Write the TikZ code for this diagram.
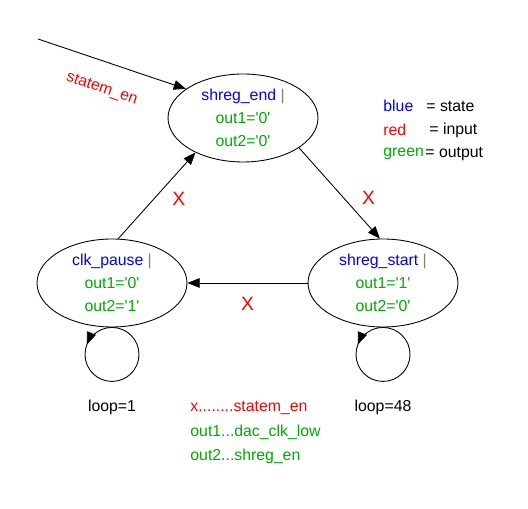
\documentclass[tikz,border=0pt]{standalone}
\usepackage{fontspec}
\setmainfont{Liberation Sans}
\usepackage{xcolor}
\usepackage{tikz}
\usetikzlibrary{arrows.meta,positioning,shapes.geometric,decorations.markings}
\definecolor{outgreen}{RGB}{0,170,0}
\newcommand\sq{\textquotesingle}
\newcommand\stname[1]{{\color{blue}#1} {\color{gray}|}}
\newcommand\outs[2]{\textcolor{outgreen}{out1=\sq#1\sq}\\ \textcolor{outgreen}{out2=\sq#2\sq}}

\begin{document}
\begin{tikzpicture}[x=0.02cm, y=0.02cm, line width=0.5pt,
  font=\fontsize{9}{13}\selectfont,
  state/.style={ellipse, draw, minimum width=3cm, minimum height=1.76cm, inner sep=0pt, align=center},
  tip/.style={-{Triangle[length=7pt,width=5.5pt]}},
  selfloop/.style={postaction={decorate}, decoration={markings,
      mark=at position 0.19 with {\arrow{Triangle[length=7pt,width=5.5pt]}}}},
  cond/.style={red, font=\fontsize{11}{11}\selectfont},
  legend/.style={anchor=west, inner sep=0pt}]
  \useasboundingbox (0,0) rectangle (528,-509);
  % die drei Zustaende
  \node[state] (end) at (243,-118) {\stname{shreg\_end}\\ \outs{0}{0}};
  \node[state] (pause) at (112,-283) {\stname{clk\_pause}\\ \outs{0}{1}};
  \node[state] (start) at (383,-283) {\stname{shreg\_start}\\ \outs{1}{0}};
  % Einsprung
  \coordinate (init) at (38,-39);
  \draw[tip] (init) -- (end.153) node[pos=0.49, below=8pt, sloped, red] {statem\_en};
  % Uebergaenge
  \draw[tip] (pause.82) -- (end.216) node[cond, pos=0.46, right=7pt] {X};
  \draw[tip] (end.332) -- (start.94) node[cond, pos=0.55, right=7pt] {X};
  \draw[tip] (start.west) -- (pause.east) node[cond, pos=0.5, below=4.5pt] {X};
  % Schleifen
  \draw[selfloop] (pause.south) arc[start angle=90, delta angle=360, radius=27];
  \draw[selfloop] (start.south) arc[start angle=90, delta angle=360, radius=27];
  \node (pauseloop) at (112,-407) {loop=1};
  \node (startloop) at (383,-407) {loop=48};
  % Legende
  \node[legend, blue] (kstate) at (383,-106) {blue};
  \node[legend] (vstate) at (426,-106) {= state};
  \node[legend, red] (kinput) at (383,-130) {red};
  \node[legend] (vinput) at (429,-130) {= input};
  \node[legend, outgreen] (koutput) at (383,-154) {green};
  \node[legend] (voutput) at (425,-154) {= output};
  \node[legend, red] (sx) at (190,-408) {x........statem\_en};
  \node[legend, outgreen] (sout1) at (190,-432) {out1...dac\_clk\_low};
  \node[legend, outgreen] (sout2) at (190,-456) {out2...shreg\_en};
\end{tikzpicture}
\end{document}
